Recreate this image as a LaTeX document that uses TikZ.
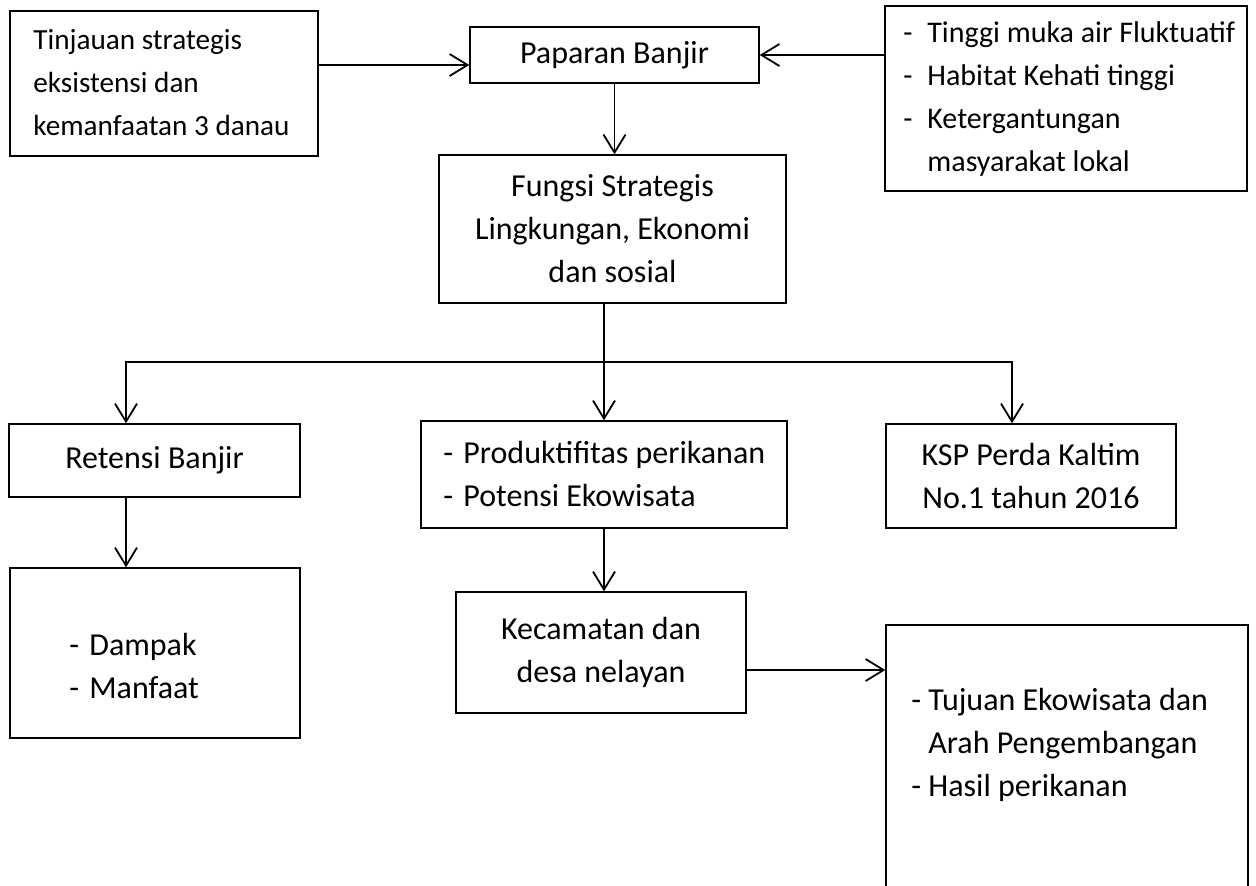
\documentclass[tikz,border=0pt]{standalone}
\usepackage{fontspec}
\setmainfont{Carlito}
\usetikzlibrary{arrows.meta}
\newcommand{\dashitem}[2]{\makebox[#1][l]{-}#2}

\begin{document}
\begin{tikzpicture}[x=0.5pt, y=-0.5pt,
    box/.style={draw, line width=0.7pt, inner sep=0pt, align=center, font=\fontsize{16}{21.5}\selectfont},
    txt/.style={inner sep=0pt, align=flush left, font=\fontsize{16}{21.5}\selectfont},
    arr/.style={line width=0.9pt, -{Straight Barb[length=9pt, width=11pt]}},
    link/.style={line width=0.9pt}]
    \clip (0,0) rectangle (1256,885);
    \fill[white] (0,0) rectangle (1256,885);

    % Top row
    \node[box, minimum width=154pt, minimum height=72.5pt] (tinjau) at (164,83.5) {};
    \node[txt, anchor=north west, font=\fontsize{14.6}{21.5}\selectfont] (tinjautxt) at (33,29) {Tinjauan strategis\\eksistensi dan\\kemanfaatan 3 danau};
    \node[box, minimum width=144.5pt, minimum height=28pt] (paparan) at (614.5,55) {Paparan Banjir};
    \node[box, minimum width=181pt, minimum height=92.5pt] (faktor) at (1066,98.5) {};
    \node[txt, anchor=north west, font=\fontsize{15}{21.5}\selectfont] (faktortxt) at (903,21) {\dashitem{12pt}{Tinggi muka air Fluktuatif}\\\dashitem{12pt}{Habitat Kehati tinggi}\\\dashitem{12pt}{Ketergantungan}\\\hspace*{12pt}masyarakat lokal};
    \node[box, minimum width=173.5pt, minimum height=74pt] (fungsi) at (612.5,229) {Fungsi Strategis\\Lingkungan, Ekonomi\\dan sosial};

    % Middle row
    \node[box, minimum width=145.5pt, minimum height=36.5pt] (retensi) at (154.5,460.5) {Retensi Banjir};
    \node[box, minimum width=183pt, minimum height=53.5pt] (produk) at (604,474.5) {};
    \node[txt, anchor=north west] (produktxt) at (443,441) {\dashitem{10pt}{Produktifitas perikanan}\\\dashitem{10pt}{Potensi Ekowisata}};
    \node[box, minimum width=145pt, minimum height=52pt] (ksp) at (1031,476) {KSP Perda Kaltim\\No.1 tahun 2016};

    % Bottom row
    \node[box, minimum width=145pt, minimum height=85pt] (dampak) at (155,653) {};
    \node[txt, anchor=north west] (dampaktxt) at (69,633) {\dashitem{10pt}{Dampak}\\\dashitem{10pt}{Manfaat}};
    \node[box, minimum width=145pt, minimum height=60.5pt] (kecamatan) at (601,652.5) {Kecamatan dan\\desa nelayan};
    \node[box, minimum width=181pt, minimum height=140pt] (tujuan) at (1067,765) {};
    \node[txt, anchor=north west] (tujuantxt) at (911,688) {\dashitem{8.5pt}{Tujuan Ekowisata dan}\\\hspace*{8.5pt}Arah Pengembangan\\\dashitem{8.5pt}{Hasil perikanan}};

    % Connectors
    \draw[arr] ([yshift=9.25pt]tinjau.east) -- ([yshift=9.25pt]tinjau.east -| paparan.west);
    \draw[arr] (faktor.west |- paparan.east) -- (paparan.east);
    \draw[arr] (paparan.south) -- (paparan.south |- fungsi.north);

    \coordinate (split) at (604,362);
    \coordinate (leftdrop) at (126,362);
    \coordinate (rightdrop) at (1012,362);
    \draw[link] (split |- fungsi.south) -- (split);
    \draw[arr] (split) -| (leftdrop |- retensi.north);
    \draw[arr] (split) -| (rightdrop |- ksp.north);
    \draw[arr] (split) -- (split |- produk.north);
    \draw[arr] (leftdrop |- retensi.south) -- (leftdrop |- dampak.north);
    \draw[arr] (produk.south) -- (produk.south |- kecamatan.north);
    \draw[arr] ([yshift=-8.75pt]kecamatan.east) -- ([yshift=-8.75pt]kecamatan.east -| tujuan.west);
\end{tikzpicture}
\end{document}
